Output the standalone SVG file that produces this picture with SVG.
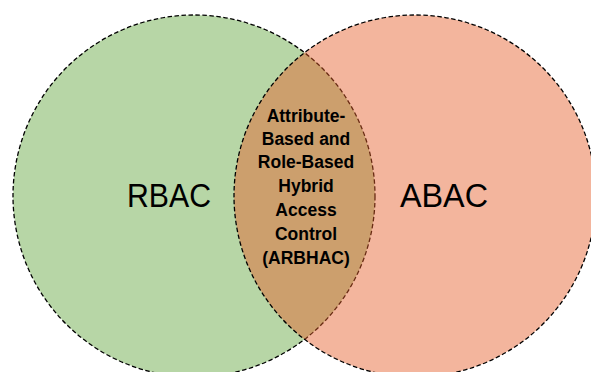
<svg xmlns="http://www.w3.org/2000/svg" width="591" height="372" viewBox="0 0 591 372">
<style>
.ring{stroke:#000;stroke-width:1.3;stroke-dasharray:4.5 2.5}
.big{font-family:"Liberation Sans",Arial,sans-serif;font-size:33px;fill:#000;text-anchor:middle}
.mid{font-family:"Liberation Sans",Arial,sans-serif;font-size:17.5px;font-weight:bold;fill:#000;text-anchor:middle}
</style>
<rect width="591" height="372" fill="#fff"/>
<g id="rbac">
<circle class="ring" cx="194" cy="196" r="181" fill="#B7D6A6"/>
<text class="big" x="169" y="207" textLength="84" lengthAdjust="spacingAndGlyphs">RBAC</text>
</g>
<g id="abac">
<circle class="ring" cx="415" cy="196" r="181" fill="#E55E2A" fill-opacity="0.46"/>
<text class="big" x="444" y="207" textLength="88" lengthAdjust="spacingAndGlyphs">ABAC</text>
</g>
<g id="arbhac">
<text class="mid" x="306" y="122">Attribute-</text>
<text class="mid" x="306" y="145">Based and</text>
<text class="mid" x="306" y="168">Role-Based</text>
<text class="mid" x="306" y="192">Hybrid</text>
<text class="mid" x="306" y="216">Access</text>
<text class="mid" x="306" y="240">Control</text>
<text class="mid" x="306" y="264">(ARBHAC)</text>
</g>
<g id="connectors"/>
</svg>
